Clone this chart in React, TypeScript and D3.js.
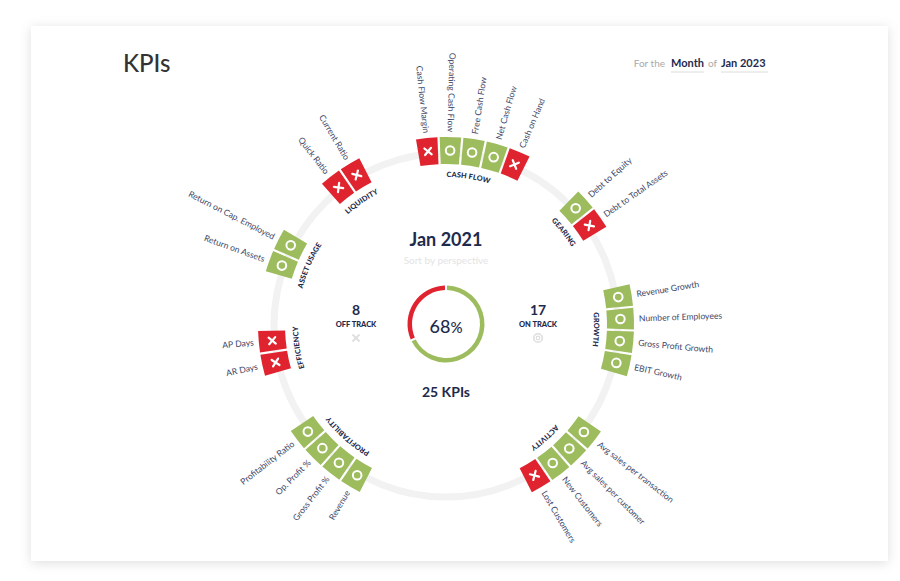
import React from "react";
import * as d3 from "d3";

// ---------- data ----------
const groupNames = ["CASH FLOW", "GEARING", "GROWTH", "ACTIVITY", "PROFITABILITY", "EFFICIENCY", "ASSET USAGE", "LIQUIDITY"];
// angle (deg, clockwise from top) of first KPI tile of each perspective
const groupStartAngles = [-5.9, 48, 80.8, 127.8, 210.6, 257.6, 289.9, 322];
const kpiNames = [
  ["Cash Flow Margin", "Operating Cash Flow", "Free Cash Flow", "Net Cash Flow", "Cash on Hand"],
  ["Debt to Equity", "Debt to Total Assets"],
  ["Revenue Growth", "Number of Employees", "Gross Profit Growth", "EBIT Growth"],
  ["Avg sales per transaction", "Avg sales per customer", "New Customers", "Lost Customers"],
  ["Revenue", "Gross Profit %", "Op. Profit %", "Profitability Ratio"],
  ["AR Days", "AP Days"],
  ["Return on Assets", "Return on Cap. Employed"],
  ["Quick Ratio", "Current Ratio"],
];
const kpiOnTrack = [
  [false, true, true, true, false],
  [true, false],
  [true, true, true, true],
  [true, true, true, false],
  [true, true, true, true],
  [false, false],
  [true, true],
  [false, false],
];
const periodLabel = "Jan 2021";
const subtitle = "Sort by perspective";
const filterPeriodType = "Month";
const filterPeriod = "Jan 2023";

// ---------- layout ----------
const W = 900, H = 581;
const CX = 446, CY = 325;
const STEP = 7.25;
const R_IN = 161, R_OUT = 188, R_LABEL = 193, R_RING = 172, R_GROUP = 148;
const RED = "#e0242f", GREEN = "#9dbc5d", NAVY = "#1e2a4c", LABEL = "#3d4869";
const FONT = "Lato, 'Open Sans', sans-serif";

const rad = (d: number) => (d * Math.PI) / 180;
const pos = (a: number, r: number) => [CX + r * Math.sin(rad(a)), CY - r * Math.cos(rad(a))];

export default function App() {
  const tileArc = d3.arc<any>().innerRadius(R_IN).outerRadius(R_OUT).padAngle(0.009);
  const kpis: { name: string; on: boolean; a: number }[] = [];
  kpiNames.forEach((names, g) => {
    const sc = d3.scaleLinear().domain([0, 1]).range([groupStartAngles[g], groupStartAngles[g] + STEP]);
    names.forEach((n, i) => kpis.push({ name: n, on: kpiOnTrack[g][i], a: sc(i) }));
  });
  const onCount = kpis.filter((k) => k.on).length;
  const offCount = kpis.length - onCount;
  const pct = Math.round((onCount / kpis.length) * 100);

  const pie = d3.pie<number>().sort(null).value((d) => d)([onCount, offCount]);
  const donutArc = d3.arc<any>().innerRadius(34).outerRadius(38.5).padAngle(0.04);

  // circle path starting at bottom, clockwise
  const gp = `M ${CX} ${CY + R_GROUP} A ${R_GROUP} ${R_GROUP} 0 1 1 ${CX} ${CY - R_GROUP} A ${R_GROUP} ${R_GROUP} 0 1 1 ${CX} ${CY + R_GROUP}`;
  const circ = 2 * Math.PI * R_GROUP;

  return (
    <svg width={W} height={H} style={{ position: "absolute", left: 0, top: 0, background: "#fff" }} fontFamily={FONT}>
      <defs>
        <filter id="sh" x="-10%" y="-10%" width="120%" height="120%">
          <feDropShadow dx="0" dy="2" stdDeviation="6" floodColor="#000" floodOpacity="0.13" />
        </filter>
        <path id="grpPath" d={gp} />
      </defs>
      <rect x={31} y={26} width={857} height={535} fill="#fff" filter="url(#sh)" />

      {/* header */}
      <text x={123} y={72} fontSize={24} fill="#333" fontWeight={500}>KPIs</text>
      <g fontSize={10}>
        <text x={665} y={67} fill="#a9a9a9" textAnchor="end">For the</text>
        <text x={671} y={67} fill={NAVY} fontWeight={700} fontSize={11}>{filterPeriodType}</text>
        <line x1={671} x2={704} y1={72} y2={72} stroke="#dcdcdc" />
        <text x={708} y={67} fill="#a9a9a9">of</text>
        <text x={721} y={67} fill={NAVY} fontWeight={700} fontSize={11}>{filterPeriod}</text>
        <line x1={721} x2={768} y1={72} y2={72} stroke="#dcdcdc" />
      </g>

      {/* ring */}
      <circle cx={CX} cy={CY} r={R_RING} fill="none" stroke="#f2f2f2" strokeWidth={7} />

      {/* tiles */}
      {kpis.map((k, i) => {
        const [x, y] = pos(k.a, (R_IN + R_OUT) / 2);
        return (
          <g key={i}>
            <path
              d={tileArc({ startAngle: rad(k.a - STEP / 2), endAngle: rad(k.a + STEP / 2) }) as string}
              transform={`translate(${CX},${CY})`}
              fill={k.on ? GREEN : RED}
            />
            {k.on ? (
              <circle cx={x} cy={y} r={4.3} fill="none" stroke="#fff" strokeWidth={2} />
            ) : (
              <g transform={`translate(${x},${y}) rotate(${k.a})`} stroke="#fff" strokeWidth={2.2} strokeLinecap="round">
                <line x1={-3.3} y1={-3.3} x2={3.3} y2={3.3} />
                <line x1={-3.3} y1={3.3} x2={3.3} y2={-3.3} />
              </g>
            )}
          </g>
        );
      })}

      {/* KPI labels */}
      {kpis.map((k, i) => {
        const [x, y] = pos(k.a, R_LABEL);
        const na = ((k.a % 360) + 360) % 360;
        const inward = na > 180 || na < 3;
        const rot = inward ? k.a + 90 : k.a - 90;
        return (
          <text key={i} transform={`translate(${x},${y}) rotate(${rot})`} fontSize={8.6} fill={LABEL}
            textAnchor={inward ? "end" : "start"} dy="0.35em">
            {k.name}
          </text>
        );
      })}

      {/* group labels */}
      {groupNames.map((g, i) => {
        const mid = groupStartAngles[i] + ((kpiNames[i].length - 1) * STEP) / 2;
        const off = ((((mid - 180) % 360) + 360) % 360) / 360 * circ;
        return (
          <text key={g} fontSize={7.3} fontWeight={900} fill={NAVY} letterSpacing={0.1}>
            <textPath href="#grpPath" startOffset={off} textAnchor="middle">{g}</textPath>
          </text>
        );
      })}

      {/* center */}
      <text x={CX} y={246} textAnchor="middle" fontSize={18} fontWeight={700} fill={NAVY}>{periodLabel}</text>
      <text x={CX} y={264} textAnchor="middle" fontSize={10} fill="#e4e4e4">{subtitle}</text>

      <g transform={`translate(${CX},${CY - 1})`}>
        {pie.map((p, i) => (
          <path key={i} d={donutArc(p) as string} fill={i === 0 ? GREEN : RED} />
        ))}
      </g>
      <text x={CX} y={333} textAnchor="middle" fontSize={18} fill={NAVY} fontWeight={500}>
        {pct}<tspan fontSize={15}>%</tspan>
      </text>

      <text x={356} y={315} textAnchor="middle" fontSize={14} fontWeight={700} fill={NAVY}>{offCount}</text>
      <text x={356} y={327} textAnchor="middle" fontSize={7.5} fontWeight={900} fill={NAVY}>OFF TRACK</text>
      <g transform="translate(356,338)" stroke="#dedede" strokeWidth={1.8}>
        <line x1={-3.5} y1={-3.5} x2={3.5} y2={3.5} />
        <line x1={-3.5} y1={3.5} x2={3.5} y2={-3.5} />
      </g>

      <text x={538} y={315} textAnchor="middle" fontSize={14} fontWeight={700} fill={NAVY}>{onCount}</text>
      <text x={538} y={327} textAnchor="middle" fontSize={7.5} fontWeight={900} fill={NAVY}>ON TRACK</text>
      <circle cx={538} cy={338} r={4.3} fill="none" stroke="#dedede" strokeWidth={1.6} />
      <circle cx={538} cy={338} r={1.8} fill="none" stroke="#dedede" strokeWidth={1.2} />

      <text x={CX} y={397} textAnchor="middle" fontSize={14} fontWeight={700} fill={NAVY}>{kpis.length} KPIs</text>
    </svg>
  );
}
